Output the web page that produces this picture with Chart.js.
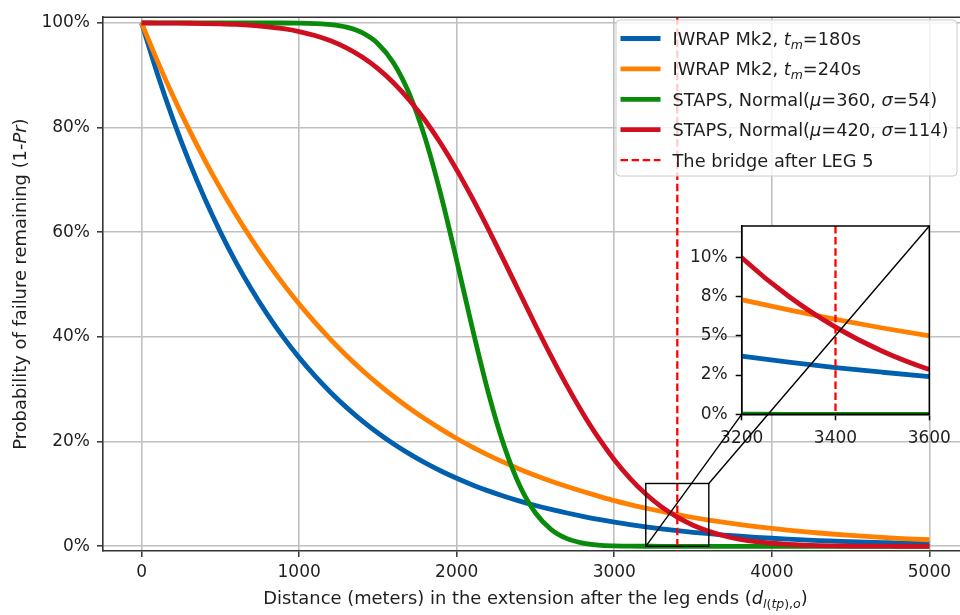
<!DOCTYPE html>
<html>
<head>
<meta charset="utf-8">
<title>Probability of failure remaining</title>
<script src="https://cdn.jsdelivr.net/npm/chart.js@4.4.1/dist/chart.umd.min.js"></script>
<style>
  html, body { margin: 0; padding: 0; background: #fff; overflow: hidden; }
  #wrap { position: relative; width: 960px; height: 615px; overflow: hidden; }
  #main, #inset { position: absolute; left: 0; top: 0; }
</style>
</head>
<body>
<div id="wrap">
  <canvas id="main" width="1000" height="615"></canvas>
  <canvas id="inset" width="960" height="615"></canvas>
</div>
<script>
// Distance after the leg ends (m)
const distance = [
  0, 100, 200, 300, 400, 500, 600, 700, 800, 900,
  1000, 1100, 1200, 1300, 1400, 1500, 1600, 1700, 1800, 1900,
  2000, 2100, 2200, 2300, 2400, 2500, 2600, 2700, 2800, 2900,
  3000, 3100, 3200, 3300, 3400, 3500, 3600, 3700, 3800, 3900,
  4000, 4100, 4200, 4300, 4400, 4500, 4600, 4700, 4800, 4900, 5000
];

// Probability of failure remaining (%), one array per model
const iwrapTm180 = [
  100, 90.30, 81.54, 73.63, 66.49, 60.04, 54.21, 48.96, 44.21, 39.92,
  36.05, 32.55, 29.39, 26.54, 23.97, 21.64, 19.54, 17.65, 15.93, 14.39,
  12.99, 11.73, 10.59, 9.57, 8.64, 7.80, 7.04, 6.36, 5.72, 5.13,
  4.60, 4.12, 3.70, 3.32, 2.98, 2.68, 2.40, 2.15, 1.92, 1.72,
  1.54, 1.38, 1.23, 1.10, 0.99, 0.88, 0.79, 0.71, 0.63, 0.57, 0.51
];
const iwrapTm240 = [
  100, 92.76, 86.00, 79.71, 73.85, 68.39, 63.31, 58.58, 54.18, 50.10,
  46.30, 42.78, 39.50, 36.46, 33.65, 31.04, 28.62, 26.38, 24.30, 22.38,
  20.60, 18.95, 17.43, 16.03, 14.73, 13.53, 12.43, 11.41, 10.47, 9.58,
  8.72, 7.97, 7.30, 6.65, 6.05, 5.50, 5.00, 4.55, 4.14, 3.76,
  3.41, 3.09, 2.80, 2.54, 2.30, 2.08, 1.88, 1.70, 1.53, 1.38, 1.25
];
const stapsMu360 = [
  100, 100, 100, 100, 100, 100, 100, 100, 99.99, 99.99,
  99.97, 99.89, 99.69, 99.20, 98.13, 96.03, 92.31, 86.39, 77.94, 67.11,
  54.57, 41.57, 29.43, 19.25, 11.57, 6.36, 3.20, 1.46, 0.61, 0.23,
  0.08, 0.02, 0.01, 0, 0, 0, 0, 0, 0, 0,
  0, 0, 0, 0, 0, 0, 0, 0, 0, 0, 0
];
const stapsMu420 = [
  100, 99.98, 99.96, 99.94, 99.89, 99.82, 99.71, 99.53, 99.27, 98.90,
  98.36, 97.60, 96.58, 95.23, 93.48, 91.26, 88.53, 85.24, 81.36, 76.91,
  71.93, 66.46, 60.64, 54.58, 48.40, 42.23, 36.28, 30.64, 25.43, 20.70,
  16.55, 12.99, 9.98, 7.52, 5.56, 4.02, 2.85, 1.97, 1.34, 0.89,
  0.58, 0.37, 0.23, 0.14, 0.08, 0.05, 0.03, 0.02, 0.01, 0.01, 0
];

const seriesValues = [iwrapTm180, iwrapTm240, stapsMu360, stapsMu420];
const seriesColors = ['#0060ad', '#ff8000', '#0a8a0a', '#cf0e20'];
// Legend labels as rich-text runs (i = italic, sub = subscript)
const seriesLabels = [
  [{t: 'IWRAP Mk2, '}, {t: 't', i: 1}, {t: 'm', i: 1, sub: 1}, {t: '=180s'}],
  [{t: 'IWRAP Mk2, '}, {t: 't', i: 1}, {t: 'm', i: 1, sub: 1}, {t: '=240s'}],
  [{t: 'STAPS, Normal('}, {t: 'μ', i: 1}, {t: '=360, '}, {t: 'σ', i: 1}, {t: '=54)'}],
  [{t: 'STAPS, Normal('}, {t: 'μ', i: 1}, {t: '=420, '}, {t: 'σ', i: 1}, {t: '=114)'}]
];
const bridgeLabel = [{t: 'The bridge after LEG 5'}];
const bridgeDistance = [3400];

const xTicks = [0, 1000, 2000, 3000, 4000, 5000];
const xTickLabels = ['0', '1000', '2000', '3000', '4000', '5000'];
const yTicks = [0, 20, 40, 60, 80, 100];
const yTickLabels = ['0%', '20%', '40%', '60%', '80%', '100%'];
const xRange = [-245, 5245];
const yRange = [-0.9, 101.1];

// Zoomed window shown in the inset
const zoomX = [3200, 3600];
const zoomY = [0, 12];
const insetXTicks = [3200, 3400, 3600];
const insetXTickLabels = ['3200', '3400', '3600'];
const insetYTicks = [0, 2.5, 5, 7.5, 10];
const insetYTickLabels = ['0%', '2%', '5%', '8%', '10%'];

const xTitle = [
  {t: 'Distance (meters) in the extension after the leg ends ('},
  {t: 'd', i: 1},
  {t: 'l', i: 1, sub: 1}, {t: '(', sub: 1}, {t: 'tp', i: 1, sub: 1}, {t: '),', sub: 1}, {t: 'o', i: 1, sub: 1},
  {t: ')'}
];
const yTitle = [{t: 'Probability of failure remaining (1-'}, {t: 'Pr', i: 1}, {t: ')'}];

const FONT = '"DejaVu Sans", "Liberation Sans", sans-serif';
const TEXT = '#1f1f1f';
const TICK_SIZE = 17;
const TITLE_SIZE = 17.9;
const LEGEND_SIZE = 17.8;

function runFont(r, size) {
  const fs = r.sub ? size * 0.7 : size;
  return (r.i ? 'italic ' : '') + fs + 'px ' + FONT;
}
function richWidth(ctx, runs, size) {
  let w = 0;
  runs.forEach(r => { ctx.font = runFont(r, size); w += ctx.measureText(r.t).width; });
  return w;
}
// y is the baseline
function drawRich(ctx, runs, x, y, size, align) {
  let cx = align === 'center' ? x - richWidth(ctx, runs, size) / 2 : x;
  ctx.textBaseline = 'alphabetic';
  ctx.textAlign = 'left';
  runs.forEach(r => {
    ctx.font = runFont(r, size);
    ctx.fillText(r.t, cx, y + (r.sub ? size * 0.22 : 0));
    cx += ctx.measureText(r.t).width;
  });
}

function makeDatasets(clip) {
  return seriesValues.map((vals, i) => ({
    data: distance.map((d, k) => ({x: d, y: vals[k]})),
    borderColor: seriesColors[i],
    backgroundColor: seriesColors[i],
    borderWidth: 4.8,
    pointRadius: 0,
    fill: false,
    cubicInterpolationMode: 'monotone',
    borderCapStyle: 'butt',
    order: seriesValues.length - i,
    clip: clip
  }));
}

function drawBridge(chart) {
  const {ctx, chartArea: a, scales: {x}} = chart;
  ctx.save();
  ctx.beginPath();
  ctx.rect(a.left, a.top, a.right - a.left, a.bottom - a.top);
  ctx.clip();
  ctx.strokeStyle = '#ff0000';
  ctx.lineWidth = 2.3;
  ctx.setLineDash([7.5, 3.6]);
  bridgeDistance.forEach(d => {
    const px = x.getPixelForValue(d);
    ctx.beginPath();
    ctx.moveTo(px, a.top);
    ctx.lineTo(px, a.bottom);
    ctx.stroke();
  });
  ctx.restore();
}

const mainDecor = {
  id: 'mainDecor',
  beforeDraw(chart) {
    const ctx = chart.ctx;
    ctx.save();
    ctx.fillStyle = '#ffffff';
    ctx.fillRect(0, 0, chart.width, chart.height);
    ctx.restore();
  },
  afterDatasetsDraw(chart) {
    drawBridge(chart);
    const {ctx, scales: {x, y}} = chart;
    const x0 = x.getPixelForValue(zoomX[0]), x1 = x.getPixelForValue(zoomX[1]);
    const y0 = y.getPixelForValue(zoomY[0]), y1 = y.getPixelForValue(zoomY[1]);
    ctx.save();
    ctx.strokeStyle = '#000';
    ctx.lineWidth = 1.4;
    ctx.strokeRect(x0, y1, x1 - x0, y0 - y1);
    ctx.restore();
  },
  afterDraw(chart) {
    const {ctx, chartArea: a} = chart;
    ctx.save();
    // top spine
    ctx.strokeStyle = '#333';
    ctx.lineWidth = 1.6;
    ctx.beginPath();
    ctx.moveTo(a.left, a.top);
    ctx.lineTo(a.right, a.top);
    ctx.stroke();

    // legend
    const lx = 616, ly = 20, lw = 341, lh = 156;
    ctx.beginPath();
    ctx.roundRect(lx, ly, lw, lh, 4);
    ctx.fillStyle = 'rgba(255,255,255,0.8)';
    ctx.fill();
    ctx.strokeStyle = '#cccccc';
    ctx.lineWidth = 1;
    ctx.stroke();
    const rowY = i => 38.5 + i * 30.4;
    seriesLabels.forEach((runs, i) => {
      ctx.strokeStyle = seriesColors[i];
      ctx.lineWidth = 4.8;
      ctx.setLineDash([]);
      ctx.beginPath();
      ctx.moveTo(620.5, rowY(i));
      ctx.lineTo(660.5, rowY(i));
      ctx.stroke();
      ctx.fillStyle = TEXT;
      drawRich(ctx, runs, 672.5, rowY(i) + LEGEND_SIZE * 0.36, LEGEND_SIZE);
    });
    const bi = seriesLabels.length;
    ctx.strokeStyle = '#ff0000';
    ctx.lineWidth = 2.3;
    ctx.setLineDash([7.5, 3.6]);
    ctx.beginPath();
    ctx.moveTo(620.5, rowY(bi));
    ctx.lineTo(660.5, rowY(bi));
    ctx.stroke();
    ctx.setLineDash([]);
    ctx.fillStyle = TEXT;
    drawRich(ctx, bridgeLabel, 672.5, rowY(bi) + LEGEND_SIZE * 0.36, LEGEND_SIZE);

    // axis titles
    drawRich(ctx, xTitle, (a.left + 968) / 2, 598 + TITLE_SIZE * 0.36, TITLE_SIZE, 'center');
    ctx.translate(19.5, (a.top + a.bottom) / 2);
    ctx.rotate(-Math.PI / 2);
    drawRich(ctx, yTitle, 0, TITLE_SIZE * 0.36, TITLE_SIZE, 'center');
    ctx.restore();
  }
};

const tickFont = {family: FONT, size: TICK_SIZE};

const mainChart = new Chart(document.getElementById('main'), {
  type: 'line',
  data: {datasets: makeDatasets(undefined)},
  options: {
    responsive: false,
    animation: false,
    devicePixelRatio: 1,
    layout: {padding: {left: 0, right: 32, top: 11, bottom: 0}},
    plugins: {legend: {display: false}, tooltip: {enabled: false}},
    scales: {
      x: {
        type: 'linear',
        min: xRange[0], max: xRange[1],
        afterFit: s => { s.height = 64; },
        afterBuildTicks: s => { s.ticks = xTicks.map(v => ({value: v})); },
        ticks: {font: tickFont, color: TEXT, padding: 5.5, maxRotation: 0,
                callback: (v, i) => xTickLabels[i]},
        grid: {color: '#c0c0c0', lineWidth: 1.6, tickLength: 6, tickColor: '#333', tickWidth: 1.5},
        border: {display: true, color: '#333', width: 1.6}
      },
      y: {
        type: 'linear',
        min: yRange[0], max: yRange[1],
        afterFit: s => { s.width = 103; },
        afterBuildTicks: s => { s.ticks = yTicks.map(v => ({value: v})); },
        ticks: {font: tickFont, color: TEXT, padding: 7,
                callback: (v, i) => yTickLabels[i]},
        grid: {color: '#c0c0c0', lineWidth: 1.6, tickLength: 6, tickColor: '#333', tickWidth: 1.5},
        border: {display: true, color: '#333', width: 1.6}
      }
    }
  },
  plugins: [mainDecor]
});

const insetDecor = {
  id: 'insetDecor',
  beforeDraw(chart) {
    const {ctx, chartArea: a} = chart;
    ctx.save();
    ctx.fillStyle = '#ffffff';
    ctx.fillRect(a.left, a.top, a.right - a.left, a.bottom - a.top);
    ctx.restore();
  },
  afterDatasetsDraw(chart) {
    drawBridge(chart);
    const {ctx, chartArea: a} = chart;
    ctx.save();
    ctx.strokeStyle = '#000';
    ctx.lineWidth = 1.5;
    ctx.strokeRect(a.left, a.top, a.right - a.left, a.bottom - a.top);
    ctx.restore();
  },
  afterDraw(chart) {
    const {ctx, chartArea: a} = chart;
    const mx = mainChart.scales.x, my = mainChart.scales.y;
    ctx.save();
    ctx.strokeStyle = '#000';
    ctx.lineWidth = 1.4;
    ctx.beginPath();
    ctx.moveTo(mx.getPixelForValue(zoomX[0]), my.getPixelForValue(zoomY[0]));
    ctx.lineTo(a.left, a.bottom);
    ctx.moveTo(mx.getPixelForValue(zoomX[1]), my.getPixelForValue(zoomY[1]));
    ctx.lineTo(a.right, a.top);
    ctx.stroke();
    ctx.restore();
  }
};

new Chart(document.getElementById('inset'), {
  type: 'line',
  data: {datasets: makeDatasets(0)},
  options: {
    responsive: false,
    animation: false,
    devicePixelRatio: 1,
    layout: {padding: {left: 0, right: 30.7, top: 226, bottom: 0}},
    plugins: {legend: {display: false}, tooltip: {enabled: false}},
    scales: {
      x: {
        type: 'linear',
        min: zoomX[0], max: zoomX[1],
        afterFit: s => { s.height = 200.7; },
        afterBuildTicks: s => { s.ticks = insetXTicks.map(v => ({value: v})); },
        ticks: {font: tickFont, color: TEXT, padding: 8, maxRotation: 0,
                callback: (v, i) => insetXTickLabels[i]},
        grid: {drawOnChartArea: false, tickLength: 6, tickColor: '#000', tickWidth: 1.5},
        border: {display: true, color: '#000', width: 1.5}
      },
      y: {
        type: 'linear',
        min: zoomY[0], max: zoomY[1],
        afterFit: s => { s.width = 741.7; },
        afterBuildTicks: s => { s.ticks = insetYTicks.map(v => ({value: v})); },
        ticks: {font: tickFont, color: TEXT, padding: 8,
                callback: (v, i) => insetYTickLabels[i]},
        grid: {drawOnChartArea: false, tickLength: 6, tickColor: '#000', tickWidth: 1.5},
        border: {display: true, color: '#000', width: 1.5}
      }
    }
  },
  plugins: [insetDecor]
});
</script>
</body>
</html>
